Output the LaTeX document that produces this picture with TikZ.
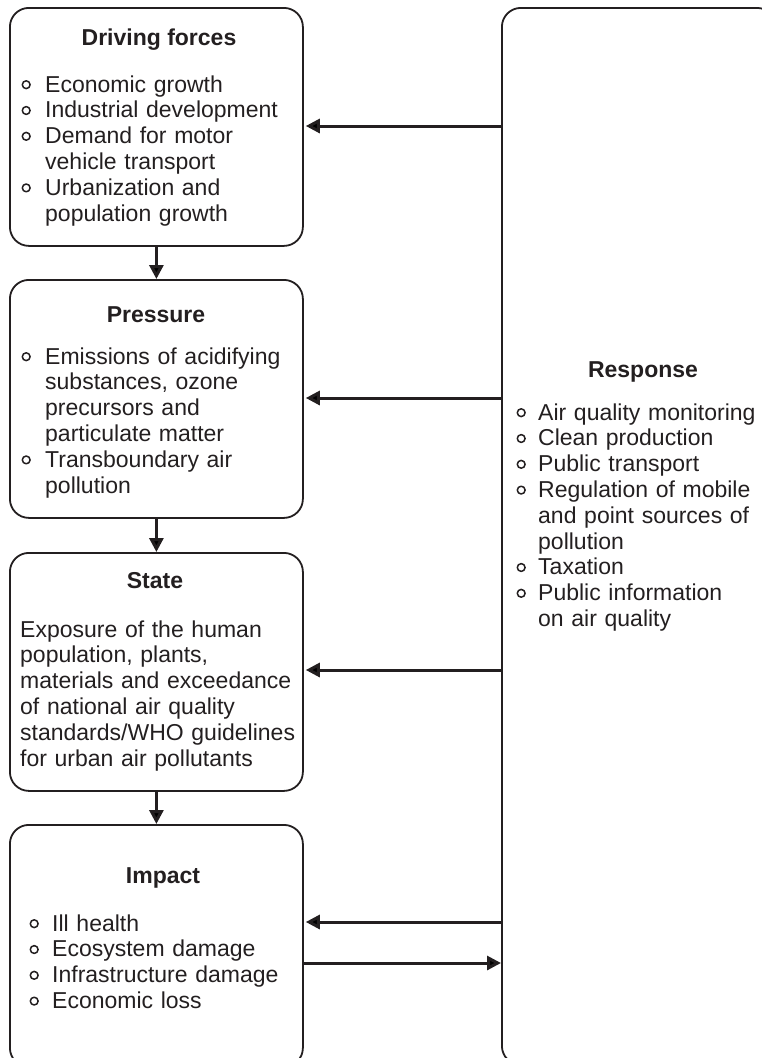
\documentclass[tikz,border=0pt]{standalone}
\usepackage{fontspec}
\setmainfont{Liberation Sans}
\usetikzlibrary{arrows.meta}
\definecolor{ink}{HTML}{231F20}
\newlength{\hg}
\newcommand{\bul}{\tikz[x=1pt,y=1pt,baseline=0pt]{\useasboundingbox (0,0) rectangle (9,9);\draw[line width=1.5pt,ink] (4.5,7.3) circle[radius=3.9];}}
\newcommand{\itm}[1]{\noindent\hangindent=\hg\hangafter=1\relax\makebox[\hg][l]{\bul}#1\par}
\newcommand{\lststart}[1]{\raggedright\setlength{\hg}{#1}}
\begin{document}
\begin{tikzpicture}[x=1pt,y=-1pt,line join=round,
  box/.style={draw=ink,line width=1.8pt,rounded corners=19pt,anchor=north west,inner sep=0pt},
  arr/.style={draw=ink,line width=3pt,-{Triangle[length=14pt,width=14pt]}},
  ttl/.style={font=\fontsize{23}{26}\selectfont\bfseries,text=ink,inner sep=0pt,anchor=base},
  lst/.style={font=\fontsize{23}{25.8}\selectfont,text=ink,inner sep=0pt,anchor=base west,text width=#1},
  lst/.default=270pt]
\useasboundingbox (0,0) rectangle (762,1058);
% boxes
\node[box,minimum width=293pt,minimum height=238pt] (drv) at (9,7) {};
\node[box,minimum width=293pt,minimum height=238pt] (prs) at (9,279) {};
\node[box,minimum width=293pt,minimum height=238pt] (sta) at (9,552) {};
\node[box,minimum width=293pt,minimum height=242pt] (imp) at (9,824) {};
\node[box,minimum width=274pt,minimum height=1057pt] (rsp) at (501,7) {};
% titles
\node[ttl] (t1) at (159,45) {Driving forces};
\node[ttl] (t2) at (156,322) {Pressure};
\node[ttl] (t3) at (155,588) {State};
\node[ttl] (t4) at (163,883) {Impact};
\node[ttl] (t5) at (643,377) {Response};
% lists
\node[lst=270pt] (l1) at (21.5,92) {\lststart{23.5pt}%
  \itm{Economic growth}\itm{Industrial development}%
  \itm{Demand for motor\newline vehicle transport}%
  \itm{Urbanization and\newline population growth}};
\node[lst=270pt] (l2) at (21.5,364) {\lststart{23.5pt}%
  \itm{Emissions of acidifying\newline substances, ozone\newline precursors and\newline particulate matter}%
  \itm{Transboundary air\newline pollution}};
\node[lst=280pt] (l3) at (20,637) {\raggedright Exposure of the human\newline population, plants,\newline materials and exceedance\newline of national air quality\newline standards/WHO guidelines\newline for urban air pollutants};
\node[lst=265pt] (l4) at (29.5,931) {\lststart{22.5pt}%
  \itm{Ill health}\itm{Ecosystem damage}\itm{Infrastructure damage}\itm{Economic loss}};
\node[lst=240pt] (l5) at (516.5,420) {\lststart{21.5pt}%
  \itm{Air quality monitoring}\itm{Clean production}\itm{Public transport}%
  \itm{Regulation of mobile\newline and point sources of\newline pollution}%
  \itm{Taxation}\itm{Public information\newline on air quality}};
% vertical arrows
\draw[arr] (drv.south) -- (prs.north);
\draw[arr] (prs.south) -- (sta.north);
\draw[arr] (sta.south) -- (imp.north);
% response arrows
\draw[arr,shorten >=2pt] (rsp.west |- 0,126) -- (drv.east |- 0,126);
\draw[arr,shorten >=2pt] (rsp.west |- 0,398) -- (prs.east |- 0,398);
\draw[arr,shorten >=2pt] (rsp.west |- 0,670) -- (sta.east |- 0,670);
\draw[arr,shorten >=2pt] (rsp.west |- 0,922) -- (imp.east |- 0,922);
\draw[arr] (imp.east |- 0,963) -- (rsp.west |- 0,963);
\end{tikzpicture}
\end{document}
